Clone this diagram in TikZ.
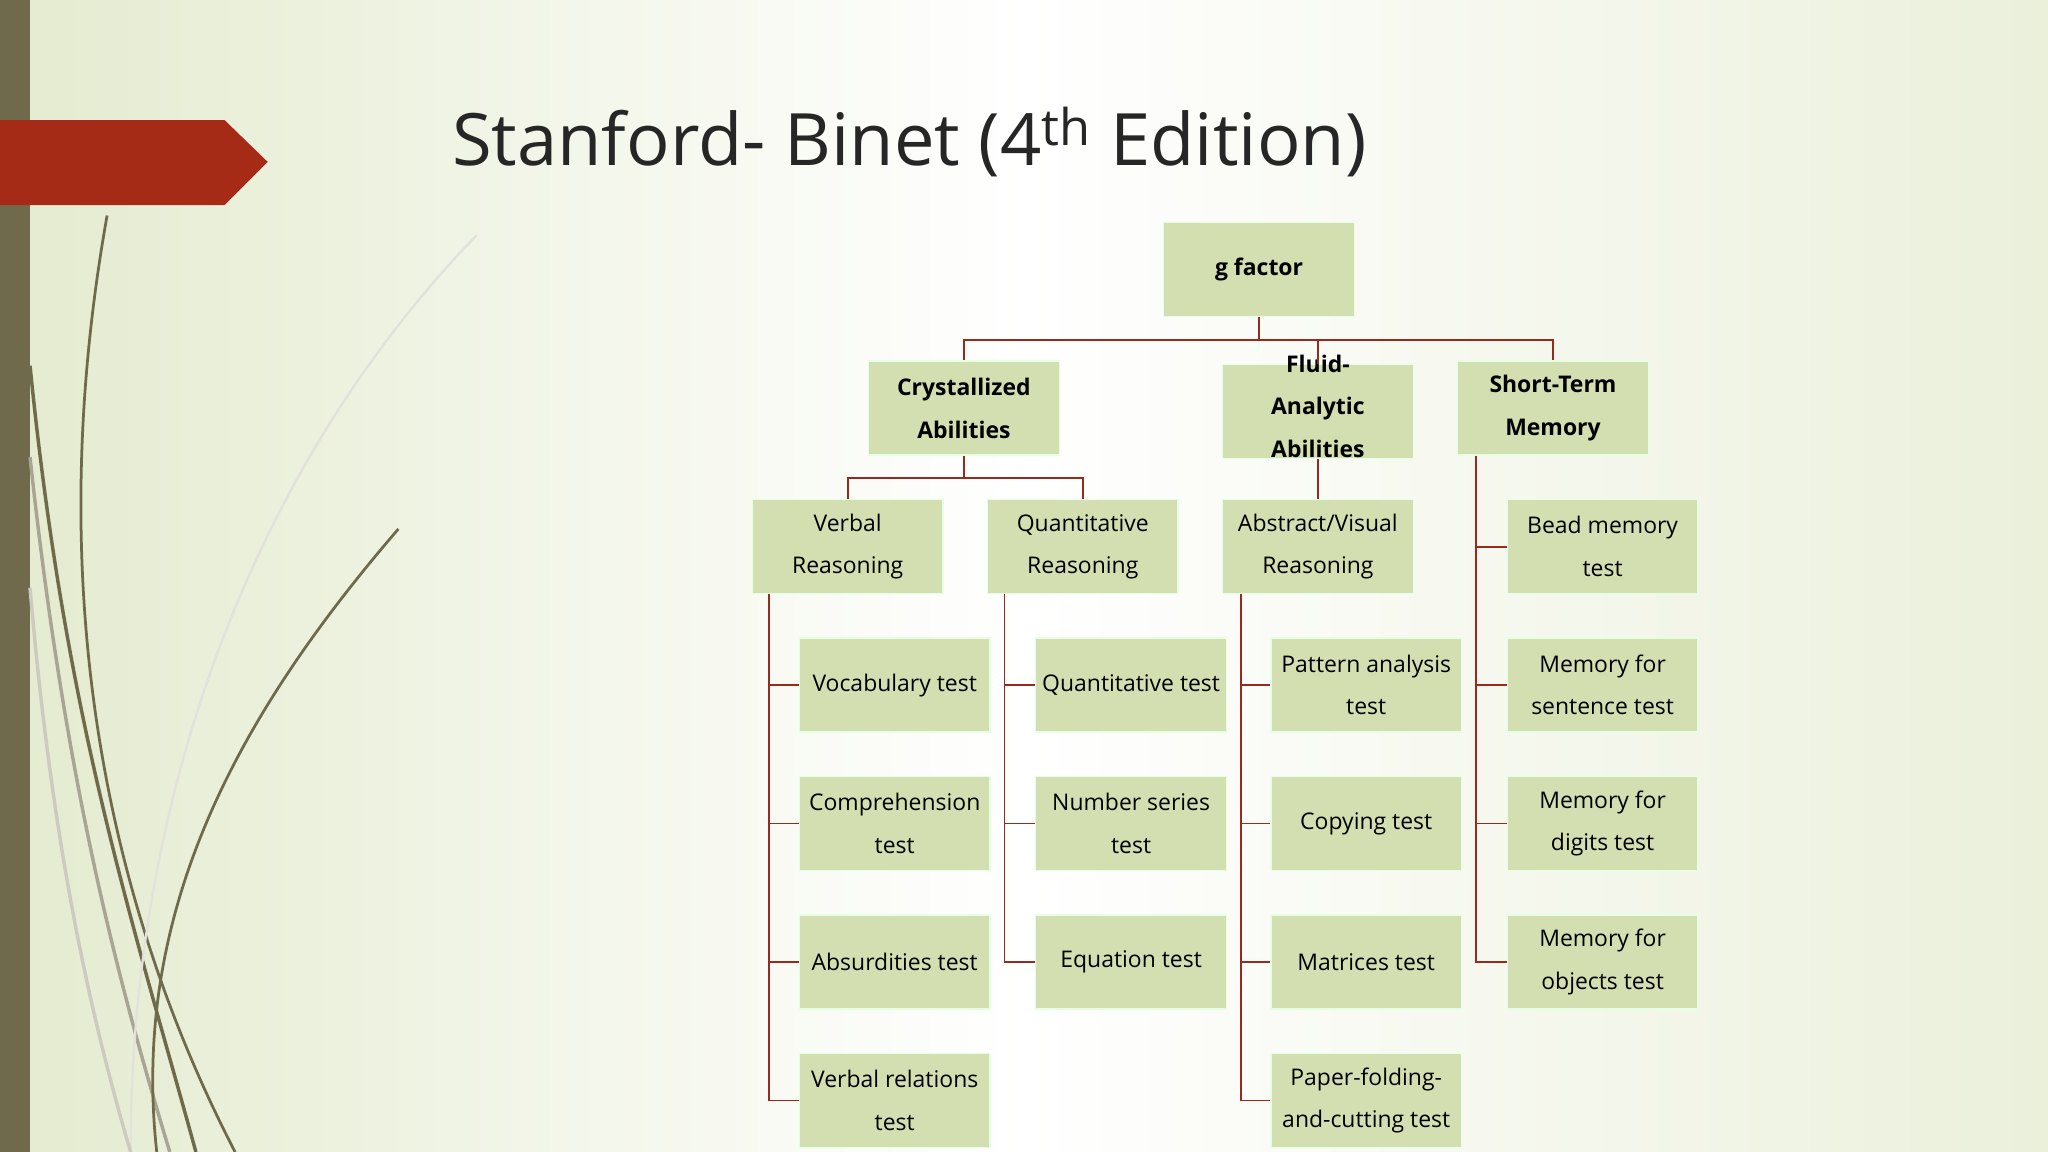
\documentclass[tikz,border=0pt]{standalone}
\usepackage{fontspec}
\setmainfont{Open Sans}
\begin{document}
\begin{tikzpicture}[x=0.02cm,y=-0.02cm,
  bx/.style={draw=white!90!green,line width=0.6pt,fill=boxc,minimum width=2.92cm,minimum height=1.44cm,align=center,font=\fontsize{10}{18.5}\selectfont,inner sep=1pt},
  hd/.style={bx,font=\fontsize{10}{18.5}\selectfont\bfseries},
  ln/.style={draw=linec,line width=0.8pt}]
\definecolor{boxc}{HTML}{D3DFB1}
\definecolor{linec}{HTML}{962A1C}
\definecolor{bgc}{HTML}{E4EBCF}
\definecolor{stem}{HTML}{6F6A4C}
\definecolor{redc}{HTML}{A52B16}
\useasboundingbox (0,0) rectangle (1568,882);
\shade[left color=bgc, right color=bgc!75!white, middle color=white] (0,0) rectangle (1568,882);
\fill[stem] (0,0) rectangle (23,882);
\fill[redc] (0,92) -- (172,92) -- (205,124) -- (172,157) -- (0,157) -- cycle;
% decorative curves
\draw[stem,line width=1.2pt] (82,165) .. controls (40,400) and (60,650) .. (180,882);
\draw[stem,line width=1.5pt] (23,280) .. controls (50,550) and (100,700) .. (150,882);
\draw[stem!60,line width=1.5pt] (23,350) .. controls (50,600) and (90,750) .. (130,882);
\draw[stem,line width=1.2pt] (305,405) .. controls (180,550) and (100,700) .. (120,882);
\draw[stem!20,line width=1pt] (365,180) .. controls (200,350) and (100,600) .. (100,882);
\draw[stem!35,line width=1.5pt] (23,450) .. controls (40,650) and (70,780) .. (100,882);
\node[anchor=base west,font=\fontsize{31.5}{36}\selectfont,text=black!85] (title) at (340,127) {Stanford- Binet (4\textsuperscript{th} Edition)};
\begin{scope}[every node/.append style={yshift=0.05cm}]
\node[hd] (g) at (964,209) {g factor};
\node[hd] (cr) at (738,315) {Crystallized\\Abilities};
\node[hd] (st) at (1189,315) {Short-Term\\Memory};
\node[bx] (vr) at (649,421) {Verbal\\Reasoning};
\node[bx] (qr) at (829,421) {Quantitative\\Reasoning};
\node[bx] (ar) at (1009,421) {Abstract/Visual\\Reasoning};
\node[bx] (v1) at (685,527) {Vocabulary test};
\node[bx] (v2) at (685,633) {Comprehension\\test};
\node[bx] (v3) at (685,739) {Absurdities test};
\node[bx] (v4) at (685,845) {Verbal relations\\test};
\node[bx] (q1) at (866,527) {Quantitative test};
\node[bx] (q2) at (866,633) {Number series\\test};
\node[bx] (q3) at (866,739) {Equation test};
\node[bx] (a1) at (1046,527) {Pattern analysis\\test};
\node[bx] (a2) at (1046,633) {Copying test};
\node[bx] (a3) at (1046,739) {Matrices test};
\node[bx] (a4) at (1046,845) {Paper-folding-\\and-cutting test};
\node[bx] (s1) at (1227,421) {Bead memory\\test};
\node[bx] (s2) at (1227,527) {Memory for\\sentence test};
\node[bx] (s3) at (1227,633) {Memory for\\digits test};
\node[bx] (s4) at (1227,739) {Memory for\\objects test};
\end{scope}
\node[hd] (fl) at (1009,315) {};
\node[align=center,font=\fontsize{10}{18.5}\selectfont\bfseries,inner sep=0pt] (flt) at (1009,311) {Fluid-\\Analytic\\Abilities};
\draw[ln] (g.south) -- ++(0,17) -| (cr.north);
\draw[ln] (g.south) -- ++(0,17) -| (st.north);
\draw[ln] (g.south) -- ++(0,17) -| (fl.north);
\draw[ln] (cr.south) -- ++(0,17) -| (vr.north);
\draw[ln] (cr.south) -- ++(0,17) -| (qr.north);
\draw[ln] (fl.south) -- (ar.north);
\foreach \p/\x/\list in {vr/589/{v1,v2,v3,v4}, qr/769/{q1,q2,q3}, ar/950/{a1,a2,a3,a4}, st/1130/{s1,s2,s3,s4}}{
  \foreach \c in \list { \draw[ln] (\x,0 |- \p.south) |- (\c.west); }
}
\end{tikzpicture}
\end{document}
